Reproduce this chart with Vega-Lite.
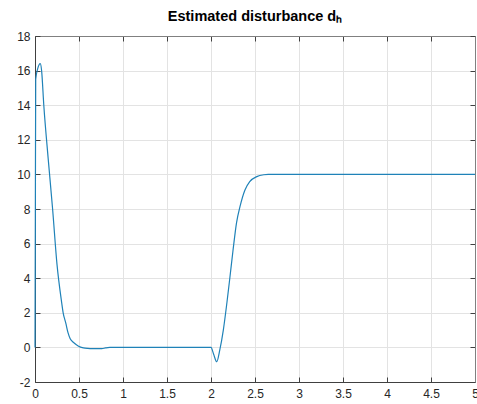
{
  "$schema": "https://vega.github.io/schema/vega-lite/v6.json",
  "width": 440,
  "height": 346,
  "autosize": "none",
  "padding": {"left": 35, "top": 36, "right": 2, "bottom": 22},
  "background": "white",
  "title": {
    "text": "Estimated disturbance dₕ",
    "font": "Liberation Sans",
    "fontSize": 14.5,
    "fontWeight": "bold",
    "color": "#000000",
    "anchor": "middle",
    "offset": 6
  },
  "config": {
    "view": {"stroke": null},
    "axis": {
      "labelFont": "Liberation Sans",
      "labelFontSize": 12,
      "labelColor": "#262626",
      "domainColor": "#404040",
      "domainWidth": 1,
      "tickColor": "#404040",
      "tickSize": -5,
      "gridColor": "#e3e3e3",
      "gridWidth": 1,
      "title": null
    }
  },
  "data": {
    "values": [
      {"t": 0, "v": 0},
      {"t": 0.004, "v": 7.5},
      {"t": 0.008, "v": 15.5},
      {"t": 0.03, "v": 16.1},
      {"t": 0.06, "v": 16.4},
      {"t": 0.075, "v": 16.0},
      {"t": 0.1, "v": 14.0},
      {"t": 0.15, "v": 10.9},
      {"t": 0.2, "v": 8.0},
      {"t": 0.25, "v": 4.8},
      {"t": 0.3, "v": 2.7},
      {"t": 0.32, "v": 2.0},
      {"t": 0.35, "v": 1.4},
      {"t": 0.375, "v": 0.85},
      {"t": 0.4, "v": 0.5},
      {"t": 0.435, "v": 0.3},
      {"t": 0.47, "v": 0.15},
      {"t": 0.51, "v": 0.03},
      {"t": 0.55, "v": -0.03},
      {"t": 0.6, "v": -0.06},
      {"t": 0.65, "v": -0.07},
      {"t": 0.76, "v": -0.07},
      {"t": 0.8, "v": -0.03},
      {"t": 0.85, "v": 0},
      {"t": 2.0, "v": 0},
      {"t": 2.03, "v": -0.4},
      {"t": 2.065, "v": -0.83},
      {"t": 2.1, "v": -0.15},
      {"t": 2.14, "v": 1.0},
      {"t": 2.18, "v": 2.55},
      {"t": 2.216, "v": 4.1},
      {"t": 2.25, "v": 5.6},
      {"t": 2.29, "v": 7.2},
      {"t": 2.33, "v": 8.15},
      {"t": 2.386, "v": 9.1},
      {"t": 2.44, "v": 9.58},
      {"t": 2.52, "v": 9.87},
      {"t": 2.6, "v": 9.98},
      {"t": 2.65, "v": 10},
      {"t": 5, "v": 10}
    ]
  },
  "layer": [
    {
      "mark": {"type": "line", "color": "#1f82b8", "strokeWidth": 1.2, "interpolate": "monotone"},
      "encoding": {
        "x": {
          "field": "t", "type": "quantitative",
          "scale": {"domain": [0, 5], "nice": false, "zero": false},
          "axis": {"values": [0, 0.5, 1, 1.5, 2, 2.5, 3, 3.5, 4, 4.5, 5], "format": "~g", "labelPadding": 11, "labelFlush": false, "labelOverlap": false}
        },
        "y": {
          "field": "v", "type": "quantitative",
          "scale": {"domain": [-2, 18], "nice": false, "zero": false},
          "axis": {"values": [-2, 0, 2, 4, 6, 8, 10, 12, 14, 16, 18], "format": "~g", "labelExpr": "replace(datum.label, '−', '-')", "labelPadding": 10, "labelFlush": false, "labelOverlap": false}
        }
      }
    },
    {
      "mark": {"type": "line", "opacity": 0},
      "encoding": {
        "x": {
          "field": "t", "type": "quantitative",
          "axis": {"orient": "top", "values": [0, 0.5, 1, 1.5, 2, 2.5, 3, 3.5, 4, 4.5, 5], "labels": false, "grid": false, "domainColor": "#808080"}
        },
        "y": {
          "field": "v", "type": "quantitative",
          "axis": {"orient": "right", "values": [-2, 0, 2, 4, 6, 8, 10, 12, 14, 16, 18], "labels": false, "grid": false, "domainColor": "#808080"}
        }
      }
    }
  ],
  "resolve": {"axis": {"x": "independent", "y": "independent"}}
}
